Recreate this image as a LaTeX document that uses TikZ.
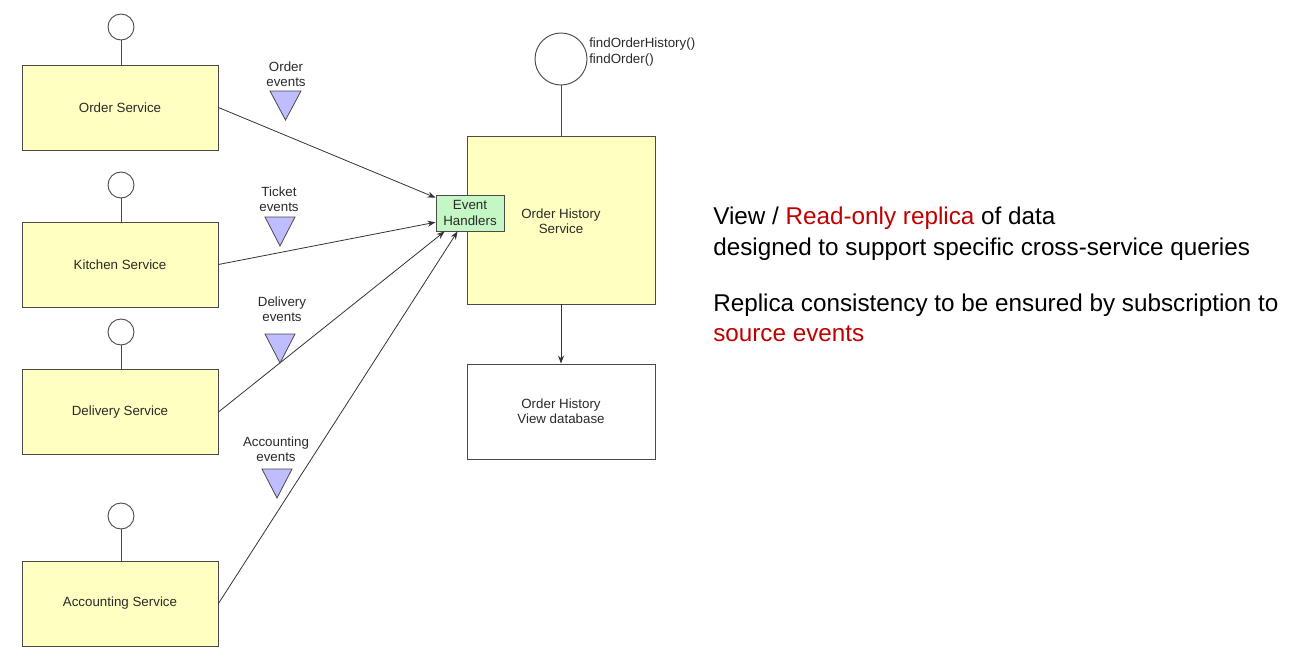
\documentclass[tikz,border=0pt]{standalone}
\usepackage{fontspec}
\setmainfont{Liberation Sans}
\usetikzlibrary{arrows.meta,calc}
\definecolor{svcyellow}{HTML}{FFFFC2}
\definecolor{ehgreen}{HTML}{C4F7C4}
\definecolor{evtblue}{HTML}{BDBDFF}
\definecolor{edge}{HTML}{4A4A4A}
\definecolor{txt}{HTML}{2A2A2A}
\definecolor{hl}{HTML}{C00000}
\begin{document}
\begin{tikzpicture}[x=0.75pt,y=-0.75pt,
  svc/.style={draw=edge,line width=0.7pt,fill=svcyellow,minimum width=147pt,minimum height=63.75pt,inner sep=0pt,font=\fontsize{10}{11.5}\selectfont,text=txt,align=center},
  plain/.style={draw=edge,line width=0.7pt,fill=white,minimum width=141pt,minimum height=71.25pt,inner sep=0pt,font=\fontsize{10}{11.5}\selectfont,text=txt,align=center},
  iface/.style={draw=edge,line width=0.7pt,fill=white,circle,minimum size=19.5pt,inner sep=0pt},
  bigiface/.style={draw=edge,line width=0.7pt,fill=white,circle,minimum size=39pt,inner sep=0pt},
  conn/.style={draw=edge,line width=0.6pt},
  flow/.style={draw=black!80,line width=0.6pt,-{Stealth[length=6pt,width=4.5pt]}},
  evt/.style={draw=edge,line width=0.6pt,fill=evtblue,line join=miter},
  lbl/.style={font=\fontsize{10}{11.5}\selectfont,text=txt,align=center,inner sep=0pt},
  side/.style={font=\fontsize{18.2}{23}\selectfont,anchor=base west,inner sep=0pt}]
\useasboundingbox (0,0) rectangle (1305,660);

% services
\node[svc] (os) at (120,107.5) {Order Service};
\node[svc] (ks) at (120,264.5) {Kitchen Service};
\node[svc] (ds) at (120,412) {Delivery Service};
\node[svc] (as) at (120,603.5) {Accounting Service};

\node[iface] (osi) at (121,27) {};
\node[iface] (ksi) at (121,185) {};
\node[iface] (dsi) at (121,332) {};
\node[iface] (asi) at (121,516) {};
\draw[conn] (osi) -- (osi |- os.north);
\draw[conn] (ksi) -- (ksi |- ks.north);
\draw[conn] (dsi) -- (dsi |- ds.north);
\draw[conn] (asi) -- (asi |- as.north);

% order history service
\node[svc,minimum width=141pt,minimum height=126pt] (ohs) at (561,220) {};
\node[lbl] (ohsl) at (561,221) {Order History\\Service};
\node[bigiface] (ohi) at (561,59) {};
\draw[conn] (ohi) -- (ohs.north);
\node[lbl,anchor=north west,align=left] (ops) at (589,38) {findOrderHistory()\\findOrder()};

\node[draw=edge,line width=0.7pt,fill=ehgreen,minimum width=51pt,minimum height=27pt,inner sep=0pt,font=\fontsize{10}{11.5}\selectfont,text=txt,align=center] (eh) at (470,213) {Event\\Handlers};

\node[plain] (db) at (561,411.5) {Order History\\View database};
\draw[flow] (ohs.south) -- (db.north);

% event flows
\draw[flow] (os.east) -- (eh.156);
\draw[flow] (ks.east) -- (eh.195);
\draw[flow] (ds.east) -- (eh.216);
\draw[flow] (as.east) -- (eh.236);

% event triangles
\draw[evt] (270,91) -- (301,91) -- (285.5,120) -- cycle;
\node[lbl] (oe) at (286,74) {Order\\events};
\draw[evt] (265,217) -- (295,217) -- (280,246) -- cycle;
\node[lbl] (te) at (279,199.5) {Ticket\\events};
\draw[evt] (265,334) -- (295,334) -- (280,363) -- cycle;
\node[lbl] (de) at (282,309.5) {Delivery\\events};
\draw[evt] (262,469) -- (292,469) -- (277,498) -- cycle;
\node[lbl] (ae) at (276,449.5) {Accounting\\events};

% side text
\node[side] (t1) at (713,224) {View / \textcolor{hl}{Read-only replica} of data};
\node[side] (t2) at (713,255) {designed to support specific cross-service queries};
\node[side] (t3) at (713,311) {Replica consistency to be ensured by subscription to};
\node[side] (t4) at (713,341) {\textcolor{hl}{source events}};
\end{tikzpicture}
\end{document}
